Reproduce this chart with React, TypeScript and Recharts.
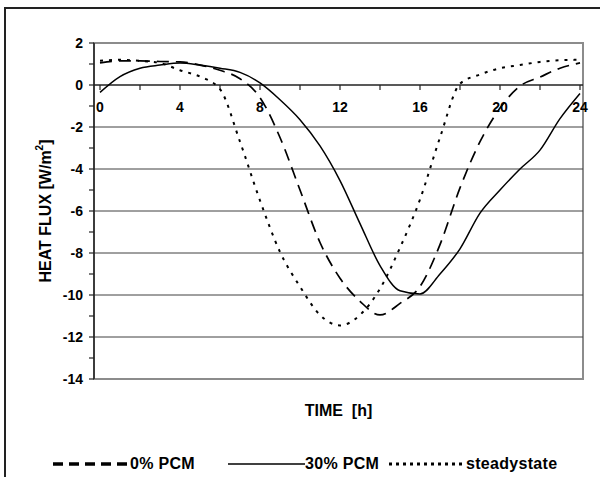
import { LineChart, Line, XAxis, YAxis, ReferenceLine, ReferenceArea, ReferenceDot, Legend } from 'recharts'

const hours = [0, 1, 2, 3, 4, 5, 6, 7, 8, 9, 10, 11, 12, 13, 14, 15, 16, 17, 18, 19, 20, 21, 22, 23, 24]
const pcm0 = [1.05, 1.15, 1.15, 1.12, 1.1, 0.95, 0.7, 0.3, -0.6, -2.5, -5.0, -7.5, -9.2, -10.3, -10.95, -10.4, -9.6, -7.6, -4.9, -2.7, -1.1, -0.05, 0.38, 0.8, 1.05]
const pcm30 = [-0.35, 0.4, 0.8, 0.95, 1.05, 0.95, 0.8, 0.6, 0.1, -0.7, -1.65, -2.9, -4.55, -6.6, -8.6, -9.8, -9.95, -9.0, -7.8, -6.1, -5.0, -4.0, -3.1, -1.6, -0.4]
const steady = [1.15, 1.2, 1.15, 1.05, 0.7, 0.4, -0.2, -2.7, -5.5, -7.95, -9.6, -10.95, -11.45, -10.95, -9.7, -7.75, -5.45, -2.5, 0.06, 0.5, 0.8, 0.95, 1.1, 1.18, 1.2]

const xLabelHours = [0, 4, 8, 12, 16, 20, 24]
const xTickHours = [0, 2, 4, 6, 8, 10, 12, 14, 16, 18, 20, 22, 24]
const yTicks = [-14, -13, -12, -11, -10, -9, -8, -7, -6, -5, -4, -3, -2, -1, 0, 1, 2]
const yGrid = [-12, -10, -8, -6, -4, -2]

const data = hours.map((h, i) => ({ h, pcm0: pcm0[i], pcm30: pcm30[i], steady: steady[i] }))

const FONT = '"Liberation Sans", Arial, sans-serif'

const series = [
  { key: 'pcm0', name: '0% PCM', dash: '12 7', width: 1.7, legendDash: '10 6', legendWidth: 3.5, slot: 175 },
  { key: 'pcm30', name: '30% PCM', dash: undefined, width: 1.5, legendDash: undefined, legendWidth: 1.5, slot: 161 },
  { key: 'steady', name: 'steadystate', dash: '3 6', width: 2, legendDash: '3 4', legendWidth: 3, slot: 190 },
]

function LegendContent() {
  return (
    <div style={{ display: 'flex', alignItems: 'center', fontFamily: FONT, fontWeight: 'bold', fontSize: 16, letterSpacing: 0.3, color: '#000' }}>
      {series.map((s) => (
        <div key={s.key} style={{ display: 'flex', alignItems: 'center', width: s.slot }}>
          <svg width={77} height={8} style={{ display: 'block' }}>
            <line x1={0} y1={4} x2={77} y2={4} stroke="#000" strokeWidth={s.legendWidth} strokeDasharray={s.legendDash} />
          </svg>
          <span style={{ whiteSpace: 'nowrap' }}>{s.name}</span>
        </div>
      ))}
    </div>
  )
}

const renderYTitle = (props: any) => {
  const { viewBox } = props
  const cx = viewBox.x + 45
  const cy = viewBox.y + viewBox.height / 2
  return (
    <text
      x={cx}
      y={cy}
      transform={`rotate(-90 ${cx} ${cy})`}
      textAnchor="middle"
      dominantBaseline="central"
      fontFamily={FONT}
      fontWeight="bold"
      fontSize={16}
      fill="#000"
    >
      HEAT FLUX [W/m<tspan dy={-6} fontSize={10}>2</tspan><tspan dy={6}>]</tspan>
    </text>
  )
}

const renderXTitle = (props: any) => {
  const { viewBox } = props
  return (
    <text
      x={viewBox.x + viewBox.width / 2}
      y={viewBox.y + 31}
      textAnchor="middle"
      dominantBaseline="central"
      fontFamily={FONT}
      fontWeight="bold"
      fontSize={16}
      fill="#000"
      style={{ whiteSpace: 'pre' }}
    >
      {'TIME  [h]'}
    </text>
  )
}

export default function App() {
  return (
    <div style={{ position: 'absolute', left: 0, top: 0, width: 600, height: 477, overflow: 'hidden', background: '#fff' }}>
      <div style={{ position: 'absolute', left: 4, top: 7, width: 640, height: 520, border: '2px solid #222' }} />
      <div style={{ position: 'absolute', left: 0, top: 0 }}>
        <LineChart width={600} height={477} data={data} margin={{ top: 43, right: 17, left: 0, bottom: 0 }}>
          <XAxis
            type="number"
            dataKey="h"
            domain={[-0.3, 24.15]}
            height={98}
            axisLine={false}
            tickLine={false}
            tick={false}
            label={renderXTitle}
          />
          <YAxis
            type="number"
            domain={[-14, 2]}
            ticks={yTicks}
            interval={0}
            width={94}
            axisLine={{ stroke: '#222', strokeWidth: 1.5 }}
            tickLine={{ stroke: '#222', strokeWidth: 1.2 }}
            tickSize={5}
            tickMargin={6}
            tickFormatter={(v: number) => (v % 2 === 0 ? String(v) : '')}
            tick={{ fontFamily: FONT, fontWeight: 'bold', fontSize: 14, fill: '#000' }}
            label={renderYTitle}
          />
          <ReferenceArea x1={-0.3} x2={24.15} y1={-14} y2={2} fill="none" stroke="#8c8c8c" strokeWidth={2} ifOverflow="visible" />
          {yGrid.map((v) => (
            <ReferenceLine key={`g${v}`} y={v} stroke="#404040" strokeWidth={1} />
          ))}
          <ReferenceLine y={0} stroke="#222" strokeWidth={1.5} />
          {xTickHours.map((h) => (
            <ReferenceLine key={`t${h}`} segment={[{ x: h, y: 0 }, { x: h, y: -0.24 }]} stroke="#222" strokeWidth={1.2} />
          ))}
          {xLabelHours.map((h) => (
            <ReferenceDot
              key={`l${h}`}
              x={h}
              y={0}
              r={0}
              fill="none"
              stroke="none"
              label={{ value: String(h), position: 'bottom', offset: 17, fontFamily: FONT, fontWeight: 'bold', fontSize: 14, fill: '#000' }}
            />
          ))}
          {series.map((s) => (
            <Line
              key={s.key}
              type="monotone"
              dataKey={s.key}
              name={s.name}
              stroke="#000"
              strokeWidth={s.width}
              strokeDasharray={s.dash}
              dot={false}
              activeDot={false}
              isAnimationActive={false}
            />
          ))}
          <Legend
            layout="horizontal"
            verticalAlign="middle"
            align="center"
            content={LegendContent}
            wrapperStyle={{ left: 53, top: 455, width: 545, height: 16 }}
          />
        </LineChart>
      </div>
    </div>
  )
}
